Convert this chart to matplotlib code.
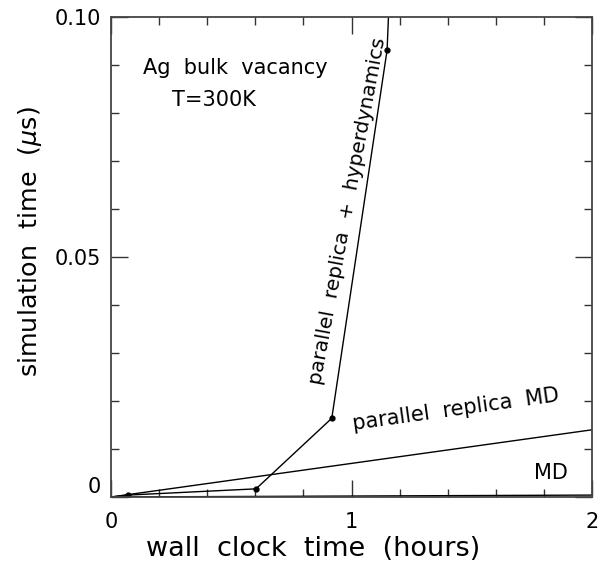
import matplotlib
matplotlib.use("Agg")
import matplotlib.pyplot as plt
import matplotlib.transforms as mtransforms
from matplotlib.ticker import MultipleLocator

# wall clock time (hours) vs simulation time (microseconds)
prh_hours = [0.0, 0.07, 0.603, 0.918, 1.148, 1.17]
prh_sim = [0.0, 0.0004, 0.0017, 0.0164, 0.0931, 0.12]
prh_marked = [1, 2, 3, 4]

prmd_hours = [0.0, 2.0]
prmd_sim = [0.0, 0.014]

md_hours = [0.0, 2.0]
md_sim = [0.0, 0.0004]

x_ticks = [0, 1, 2]
x_ticklabels = ["0", "1", "2"]
y_ticks = [0, 0.05, 0.10]
y_ticklabels = ["0", "0.05", "0.10"]

plt.rcParams["font.family"] = ["DejaVu Sans"]
plt.rcParams["mathtext.fontset"] = "dejavusans"

W, H = 603, 566
fig = plt.figure(figsize=(W / 100, H / 100), dpi=100)
ax = fig.add_axes([111 / W, 1 - 497 / H, 481 / W, 480 / H])

ink = "black"
ax.plot(prh_hours, prh_sim, color=ink, lw=1.0, clip_on=True)
ax.plot([prh_hours[i] for i in prh_marked], [prh_sim[i] for i in prh_marked],
        "o", color=ink, ms=3.5, clip_on=True)
ax.plot(prmd_hours, prmd_sim, color=ink, lw=1.0)
ax.plot(md_hours, md_sim, color=ink, lw=1.0)

ax.set_xlim(0, 2)
ax.set_ylim(0, 0.10)

ax.set_xticks(x_ticks)
ax.set_xticklabels(x_ticklabels)
ax.set_yticks(y_ticks)
ax.set_yticklabels(y_ticklabels)
ax.xaxis.set_minor_locator(MultipleLocator(0.2))
ax.yaxis.set_minor_locator(MultipleLocator(0.01))

ax.tick_params(which="both", direction="in", top=True, right=True,
               labelsize=15, colors="#333333", labelcolor="black", width=1.0)
ax.tick_params(which="major", length=12, pad=7)
ax.tick_params(which="minor", length=6)
ax.tick_params(axis="x", which="major", pad=11)
for sp in ax.spines.values():
    sp.set_linewidth(1.3)
    sp.set_color("#444444")

# lift the zero label so it sits just above the lower frame edge
zero_label = ax.get_yticklabels()[0]
zero_label.set_va("center")
zero_label.set_transform(zero_label.get_transform() +
                         mtransforms.ScaledTranslation(0, 7 / 72, fig.dpi_scale_trans))

# axis titles placed in figure pixels
fig.text(313 / W, 1 - 549 / H, "wall  clock  time  (hours)", fontsize=19.5,
         ha="center", va="center")
fig.text(30 / W, 1 - 242 / H, r"simulation  time  ($\mu$s)", fontsize=18.3,
         ha="center", va="center", rotation=90)

ax.text(0.0665, 0.893, "Ag  bulk  vacancy", transform=ax.transAxes,
        fontsize=15, ha="left", va="center")
ax.text(0.127, 0.827, "T=300K", transform=ax.transAxes,
        fontsize=15, ha="left", va="center")

ax.text(0.985, 0.0595, "parallel  replica  +  hyperdynamics", fontsize=14.5,
        rotation=79.5, rotation_mode="anchor", ha="center", va="center")
ax.text(1.435, 0.0182, "parallel  replica  MD", fontsize=15,
        rotation=8, rotation_mode="anchor", ha="center", va="center")
ax.text(1.83, 0.0050, "MD", fontsize=15, ha="center", va="center")

fig.savefig("out.png", dpi=100)
